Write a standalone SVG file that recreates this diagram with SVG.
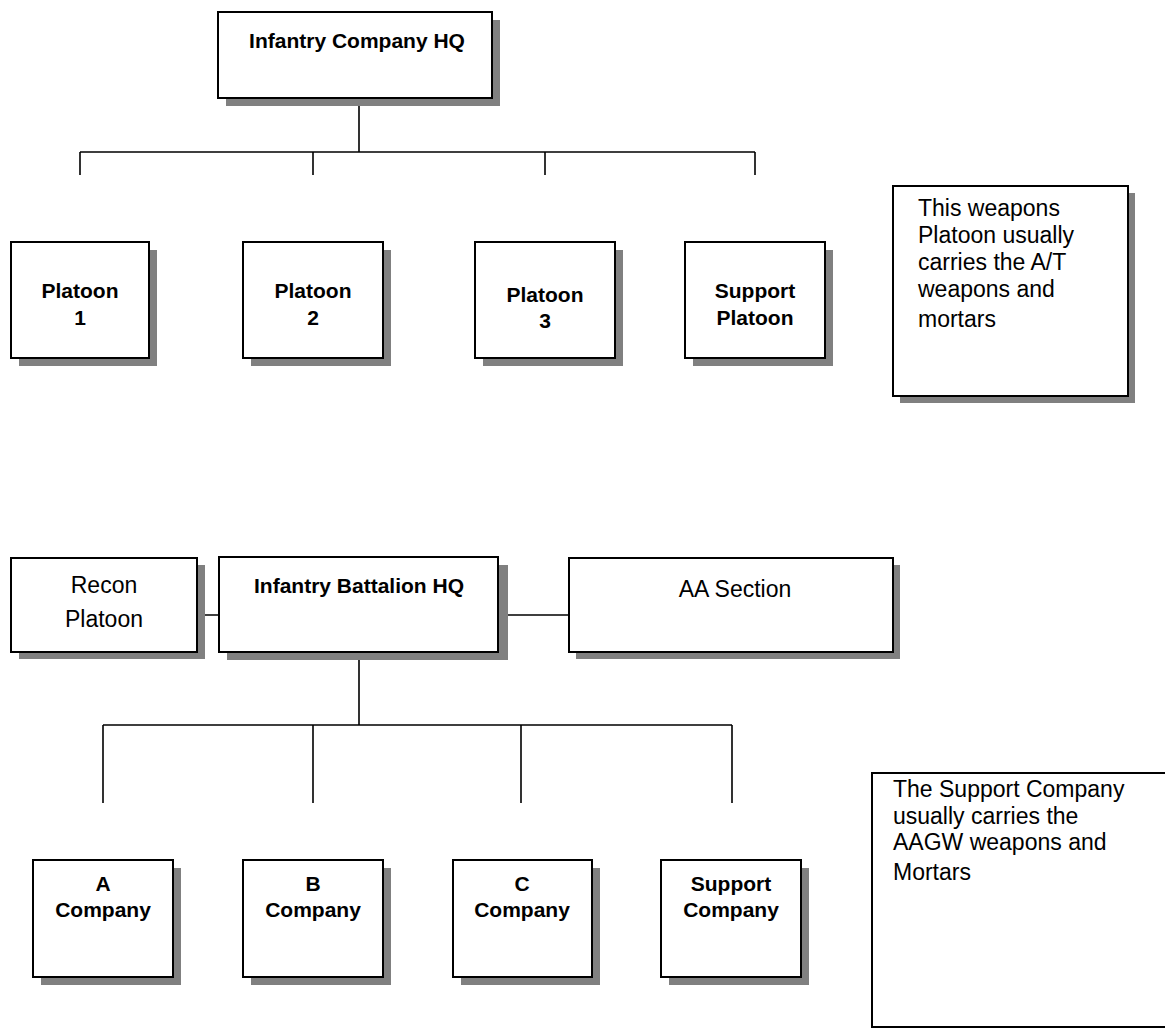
<svg xmlns="http://www.w3.org/2000/svg" width="1165" height="1029" viewBox="0 0 1165 1029">
<style>
.box{fill:#fff;stroke:#000;stroke-width:2}
.sh{fill:#808080}
.ln{stroke:#000;stroke-width:1.6;fill:none}
.b{font-family:"Liberation Sans",Arial,sans-serif;font-weight:bold;font-size:21px;fill:#000;text-anchor:middle}
.r{font-family:"Liberation Sans",Arial,sans-serif;font-size:23px;fill:#000}
.rc{text-anchor:middle}
</style>
<rect width="1165" height="1029" fill="#fff"/>
<g id="connectors">
<path class="ln" d="M359 98V152M80 152H755M80 152V175M313 152V175M545 152V175M755 152V175"/>
<path class="ln" d="M197 615H219M498 615H569"/>
<path class="ln" d="M359 652V725M103 725H732M103 725V803M313 725V803M521 725V803M732 725V803"/>
</g>
<g id="company-hq">
<rect class="sh" x="226" y="20" width="274" height="86"/>
<rect class="box" x="218" y="12" width="274" height="86"/>
<text class="b" x="357" y="48">Infantry Company HQ</text>
</g>
<g id="platoon-1">
<rect class="sh" x="19" y="250" width="138" height="116"/>
<rect class="box" x="11" y="242" width="138" height="116"/>
<text class="b" x="80" y="298">Platoon</text>
<text class="b" x="80" y="325">1</text>
</g>
<g id="platoon-2">
<rect class="sh" x="251" y="250" width="140" height="116"/>
<rect class="box" x="243" y="242" width="140" height="116"/>
<text class="b" x="313" y="298">Platoon</text>
<text class="b" x="313" y="325">2</text>
</g>
<g id="platoon-3">
<rect class="sh" x="483" y="250" width="140" height="116"/>
<rect class="box" x="475" y="242" width="140" height="116"/>
<text class="b" x="545" y="302">Platoon</text>
<text class="b" x="545" y="328">3</text>
</g>
<g id="support-platoon">
<rect class="sh" x="693" y="250" width="140" height="116"/>
<rect class="box" x="685" y="242" width="140" height="116"/>
<text class="b" x="755" y="298">Support</text>
<text class="b" x="755" y="325">Platoon</text>
</g>
<g id="note-platoon">
<rect class="sh" x="900" y="193" width="235" height="210"/>
<rect class="box" x="893" y="186" width="235" height="210"/>
<text class="r" x="918" y="216">This weapons</text>
<text class="r" x="918" y="243">Platoon usually</text>
<text class="r" x="918" y="270">carries the A/T</text>
<text class="r" x="918" y="297">weapons and</text>
<text class="r" x="918" y="327">mortars</text>
</g>
<g id="recon-platoon">
<rect class="sh" x="19" y="565" width="186" height="94"/>
<rect class="box" x="11" y="558" width="186" height="94"/>
<text class="r rc" x="104" y="593">Recon</text>
<text class="r rc" x="104" y="627">Platoon</text>
</g>
<g id="battalion-hq">
<rect class="sh" x="227" y="565" width="281" height="95"/>
<rect class="box" x="219" y="557" width="279" height="95"/>
<text class="b" x="359" y="593">Infantry Battalion HQ</text>
</g>
<g id="aa-section">
<rect class="sh" x="576" y="565" width="324" height="94"/>
<rect class="box" x="569" y="558" width="324" height="94"/>
<text class="r rc" x="735" y="597">AA Section</text>
</g>
<g id="a-company">
<rect class="sh" x="41" y="868" width="140" height="117"/>
<rect class="box" x="33" y="860" width="140" height="117"/>
<text class="b" x="103" y="891">A</text>
<text class="b" x="103" y="917">Company</text>
</g>
<g id="b-company">
<rect class="sh" x="251" y="868" width="140" height="117"/>
<rect class="box" x="243" y="860" width="140" height="117"/>
<text class="b" x="313" y="891">B</text>
<text class="b" x="313" y="917">Company</text>
</g>
<g id="c-company">
<rect class="sh" x="461" y="868" width="139" height="117"/>
<rect class="box" x="453" y="860" width="139" height="117"/>
<text class="b" x="522" y="891">C</text>
<text class="b" x="522" y="917">Company</text>
</g>
<g id="support-company">
<rect class="sh" x="669" y="868" width="140" height="117"/>
<rect class="box" x="661" y="860" width="140" height="117"/>
<text class="b" x="731" y="891">Support</text>
<text class="b" x="731" y="917">Company</text>
</g>
<g id="note-company">
<rect class="box" x="872" y="773" width="400" height="254"/>
<text class="r" x="893" y="797">The Support Company</text>
<text class="r" x="893" y="824">usually carries the</text>
<text class="r" x="893" y="850">AAGW weapons and</text>
<text class="r" x="893" y="880">Mortars</text>
</g>
</svg>
